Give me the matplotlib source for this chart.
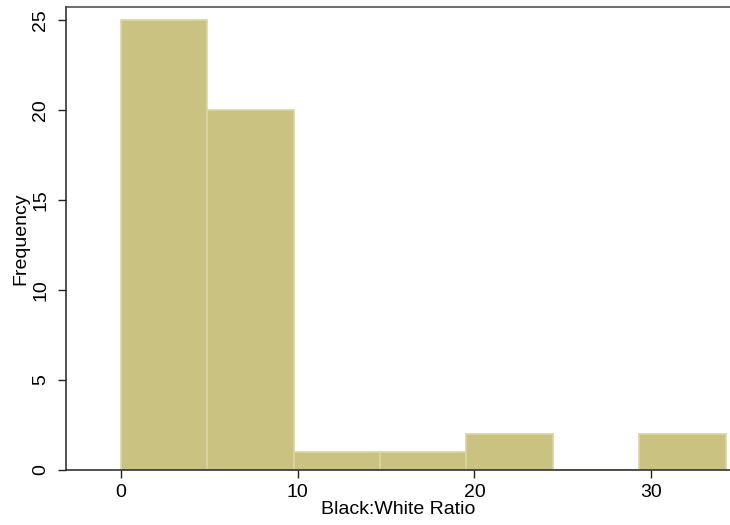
import matplotlib
matplotlib.use("Agg")
import matplotlib.pyplot as plt

# histogram of black:white ratio, 7 bins
bin_edges = [0.0, 4.886, 9.771, 14.657, 19.543, 24.429, 29.314, 34.2]
counts = [25, 20, 1, 1, 2, 0, 2]
x_ticks = [0, 10, 20, 30]
y_ticks = [0, 5, 10, 15, 20, 25]

plt.rcParams["font.family"] = ["Liberation Sans", "DejaVu Sans"]

fig = plt.figure(figsize=(7.3, 5.25), dpi=100)
ax = fig.add_axes([0.0904, 0.1048, 0.9096, 0.882])

widths = [bin_edges[i + 1] - bin_edges[i] for i in range(len(counts))]
ax.bar(bin_edges[:-1], counts, width=widths, align="edge",
       color="#c9c281", edgecolor="#d9d5a4", linewidth=1.2, zorder=2)

ax.set_xlim(-3.1, 34.45)
ax.set_ylim(0, 25.73)
ax.set_xticks(x_ticks)
ax.set_yticks(y_ticks)
ax.tick_params(axis="both", labelsize=14, length=6, width=1.0, color="#222222")
ax.tick_params(axis="x", pad=4)
ax.tick_params(axis="y", pad=6)
for lab in ax.get_yticklabels():
    lab.set_rotation(90)
    lab.set_va("center")

ax.spines["right"].set_visible(False)
for side in ["left", "bottom", "top"]:
    ax.spines[side].set_linewidth(1.1)
    ax.spines[side].set_color("#222222")
ax.spines["top"].set_color("#444444")

ax.set_xlabel("Black:White Ratio", fontsize=14, labelpad=0)
ax.set_ylabel("Frequency", fontsize=14, labelpad=2)

fig.savefig("out.png", dpi=100)
